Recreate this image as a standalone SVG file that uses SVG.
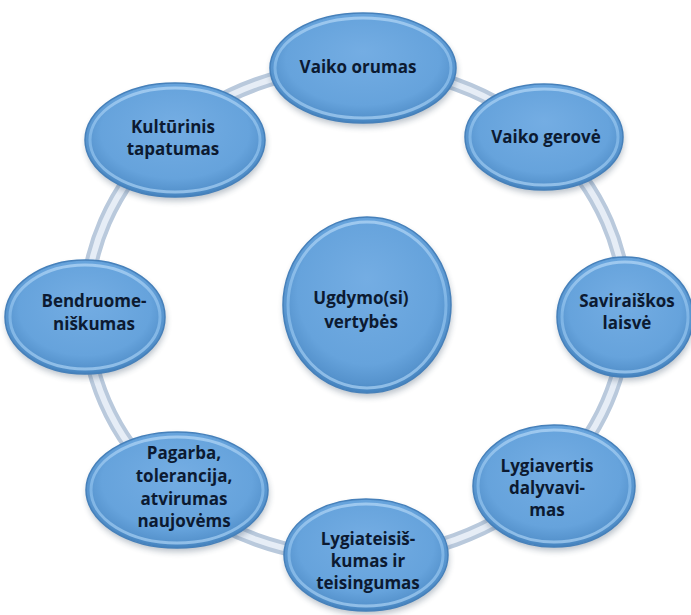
<svg xmlns="http://www.w3.org/2000/svg" width="691" height="615" viewBox="0 0 691 615">
<style>
.node{fill:url(#fillG);stroke:#4680ba;stroke-width:1.5}
.rim{fill:none;stroke:url(#rimG);stroke-width:3;opacity:0.8}
.shadow{fill:#1f3550;opacity:0.3;filter:url(#blur)}
.lbl{font-family:"Open Sans","Liberation Sans",Arial,sans-serif;font-weight:bold;font-size:17px;fill:#0c1a31;text-anchor:middle}
</style>
<defs>
<radialGradient id="fillG" cx="50%" cy="45%" r="55%" fx="50%" fy="35%">
<stop offset="0" stop-color="#74ade3"/>
<stop offset="0.75" stop-color="#66a3dc"/>
<stop offset="0.92" stop-color="#5693cd"/>
<stop offset="1" stop-color="#4281bd"/>
</radialGradient>
<linearGradient id="rimG" x1="0" y1="0" x2="0" y2="1">
<stop offset="0" stop-color="#acd2f4"/>
<stop offset="0.5" stop-color="#86bbea"/>
<stop offset="1" stop-color="#a0caef"/>
</linearGradient>
<filter id="blur" x="-20%" y="-20%" width="140%" height="140%"><feGaussianBlur stdDeviation="3"/></filter>
</defs>
<rect width="691" height="615" fill="#ffffff"/>
<g id="connectors">
<ellipse cx="356" cy="312" rx="270" ry="245" fill="none" stroke="#b9c9dc" stroke-width="14"/>
<ellipse cx="356" cy="312" rx="270" ry="245" fill="none" stroke="#e6edf6" stroke-width="6"/>
</g>
<g id="n-center">
<ellipse class="shadow" cx="368" cy="309" rx="84" ry="88"/>
<ellipse class="node" cx="367" cy="305" rx="84" ry="88"/>
<ellipse class="rim" cx="367" cy="305" rx="79" ry="83"/>
<text class="lbl" x="361" y="304">Ugdymo(si)</text>
<text class="lbl" x="361" y="328">vertybės</text>
</g>
<g id="n-orumas">
<ellipse class="shadow" cx="364" cy="72" rx="93" ry="55"/>
<ellipse class="node" cx="363" cy="68" rx="93" ry="55"/>
<ellipse class="rim" cx="363" cy="68" rx="88" ry="50"/>
<text class="lbl" x="358" y="73">Vaiko orumas</text>
</g>
<g id="n-gerove">
<ellipse class="shadow" cx="545" cy="141" rx="79" ry="53"/>
<ellipse class="node" cx="544" cy="137" rx="79" ry="53"/>
<ellipse class="rim" cx="544" cy="137" rx="74" ry="48"/>
<text class="lbl" x="546" y="143">Vaiko gerovė</text>
</g>
<g id="n-saviraiskos">
<ellipse class="shadow" cx="626" cy="321" rx="68" ry="60"/>
<ellipse class="node" cx="625" cy="317" rx="68" ry="60"/>
<ellipse class="rim" cx="625" cy="317" rx="63" ry="55"/>
<text class="lbl" x="627" y="307">Saviraiškos</text>
<text class="lbl" x="627" y="329">laisvė</text>
</g>
<g id="n-lygiavertis">
<ellipse class="shadow" cx="555" cy="490" rx="81" ry="61"/>
<ellipse class="node" cx="554" cy="486" rx="81" ry="61"/>
<ellipse class="rim" cx="554" cy="486" rx="76" ry="56"/>
<text class="lbl" x="547" y="472">Lygiavertis</text>
<text class="lbl" x="547" y="494">dalyvavi-</text>
<text class="lbl" x="547" y="516">mas</text>
</g>
<g id="n-lygiateisiskumas">
<ellipse class="shadow" cx="367" cy="559" rx="82" ry="56"/>
<ellipse class="node" cx="366" cy="555" rx="82" ry="56"/>
<ellipse class="rim" cx="366" cy="555" rx="77" ry="51"/>
<text class="lbl" x="368" y="545">Lygiateisiš-</text>
<text class="lbl" x="368" y="567">kumas ir</text>
<text class="lbl" x="368" y="589">teisingumas</text>
</g>
<g id="n-pagarba">
<ellipse class="shadow" cx="178" cy="494" rx="91" ry="58"/>
<ellipse class="node" cx="177" cy="490" rx="91" ry="58"/>
<ellipse class="rim" cx="177" cy="490" rx="86" ry="53"/>
<text class="lbl" x="184" y="459">Pagarba,</text>
<text class="lbl" x="184" y="482">tolerancija,</text>
<text class="lbl" x="184" y="505">atvirumas</text>
<text class="lbl" x="184" y="527">naujovėms</text>
</g>
<g id="n-bendruomeniskumas">
<ellipse class="shadow" cx="86" cy="321" rx="80" ry="57"/>
<ellipse class="node" cx="85" cy="317" rx="80" ry="57"/>
<ellipse class="rim" cx="85" cy="317" rx="75" ry="52"/>
<text class="lbl" x="94" y="307">Bendruome-</text>
<text class="lbl" x="94" y="330">niškumas</text>
</g>
<g id="n-kulturinis">
<ellipse class="shadow" cx="176" cy="144" rx="90" ry="57"/>
<ellipse class="node" cx="175" cy="140" rx="90" ry="57"/>
<ellipse class="rim" cx="175" cy="140" rx="85" ry="52"/>
<text class="lbl" x="173" y="133">Kultūrinis</text>
<text class="lbl" x="173" y="155">tapatumas</text>
</g>
</svg>
